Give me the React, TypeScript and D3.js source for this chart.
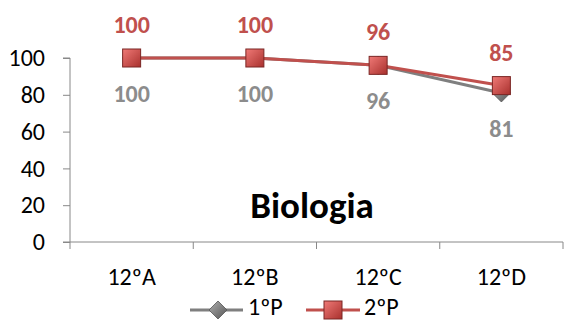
import React, { useEffect, useRef } from "react";
import * as d3 from "d3";

const categories = ["12ºA", "12ºB", "12ºC", "12ºD"];
const p1 = [100, 100, 96, 81];
const p2 = [100, 100, 96, 85];
const yTicks = [0, 20, 40, 60, 80, 100];
const title = "Biologia";

const App: React.FC = () => {
  const svgRef = useRef(null);

  useEffect(() => {
    const w = 568;
    const h = 333;
    const svg = d3.select(svgRef.current).attr("width", w).attr("height", h);
    const font = "Carlito, 'Open Sans', sans-serif";

    const x = d3.scaleBand().domain(categories).range([70, 563]);
    const y = d3.scaleLinear().domain([0, 100]).range([242, 58]);

    const defs = svg.append("defs");
    const rg = defs.append("linearGradient").attr("id", "rg").attr("x1", 0).attr("y1", 0).attr("x2", 1).attr("y2", 1);
    rg.append("stop").attr("offset", "0%").attr("stop-color", "#f07a77");
    rg.append("stop").attr("offset", "100%").attr("stop-color", "#a8302d");
    const gg = defs.append("linearGradient").attr("id", "gg").attr("x1", 0).attr("y1", 0).attr("x2", 1).attr("y2", 1);
    gg.append("stop").attr("offset", "0%").attr("stop-color", "#b0b0b0");
    gg.append("stop").attr("offset", "100%").attr("stop-color", "#555");

    // axes
    const yAxis = svg.append("g").attr("transform", "translate(70,0)")
      .call(d3.axisLeft(y).tickValues(yTicks).tickSize(7).tickPadding(18));
    yAxis.select(".domain").attr("stroke", "#888").attr("d", `M-7,${y(0)}H0V${y(100)}H-7`);
    yAxis.selectAll("line").attr("stroke", "#888");
    yAxis.selectAll("text").attr("font-size", 24).attr("font-family", font).attr("fill", "#000");

    const xAxis = svg.append("g").attr("transform", `translate(0,${y(0)})`)
      .call(d3.axisBottom(x).tickSize(0).tickPadding(26));
    xAxis.select(".domain").attr("stroke", "#888").attr("d", `M70,0H563`);
    xAxis.selectAll("text").attr("font-size", 24).attr("font-family", font).attr("fill", "#000");
    const edges = [...categories.map((c) => x(c) as number), 563];
    svg.append("g").selectAll("line").data(edges).enter().append("line")
      .attr("x1", (d) => d).attr("x2", (d) => d)
      .attr("y1", y(0)).attr("y2", y(0) + 7).attr("stroke", "#888");

    const cx = (i: number) => (x(categories[i]) as number) + x.bandwidth() / 2;
    const line = d3.line<number>().x((_, i) => cx(i)).y((d) => y(d));

    svg.append("path").attr("d", line(p1)).attr("fill", "none").attr("stroke", "#7f7f7f").attr("stroke-width", 3);
    svg.append("g").selectAll("path").data(p1).enter().append("path")
      .attr("d", (d, i) => `M${cx(i)},${y(d) - 9}L${cx(i) + 9},${y(d)}L${cx(i)},${y(d) + 9}L${cx(i) - 9},${y(d)}Z`)
      .attr("fill", "url(#gg)").attr("stroke", "#555").attr("stroke-width", 0.8);

    svg.append("path").attr("d", line(p2)).attr("fill", "none").attr("stroke", "#c0504d").attr("stroke-width", 3);
    svg.append("g").selectAll("rect").data(p2).enter().append("rect")
      .attr("x", (d, i) => cx(i) - 9).attr("y", (d) => y(d) - 9)
      .attr("width", 18).attr("height", 18)
      .attr("fill", "url(#rg)").attr("stroke", "#7a2624").attr("stroke-width", 1);

    // data labels
    svg.append("g").selectAll("text").data(p2).enter().append("text")
      .attr("x", (d, i) => cx(i)).attr("y", (d) => y(d) - 25)
      .attr("text-anchor", "middle").attr("font-size", 24).attr("font-weight", "bold")
      .attr("font-family", font).attr("fill", "#c0504d").text((d) => d);
    svg.append("g").selectAll("text").data(p1).enter().append("text")
      .attr("x", (d, i) => cx(i)).attr("y", (d) => y(d) + 44)
      .attr("text-anchor", "middle").attr("font-size", 24).attr("font-weight", "bold")
      .attr("font-family", font).attr("fill", "#8c8c8c").text((d) => d);

    svg.append("text").attr("x", 312).attr("y", 218).attr("text-anchor", "middle")
      .attr("font-size", 37).attr("font-weight", "bold").attr("font-family", font)
      .attr("fill", "#000").text(title);

    // legend
    const ly = 310;
    const leg = svg.append("g");
    leg.append("line").attr("x1", 190).attr("x2", 243).attr("y1", ly).attr("y2", ly).attr("stroke", "#7f7f7f").attr("stroke-width", 3);
    leg.append("path").attr("d", `M218,${ly - 9}L227,${ly}L218,${ly + 9}L209,${ly}Z`).attr("fill", "url(#gg)").attr("stroke", "#555").attr("stroke-width", 0.8);
    leg.append("text").attr("x", 248).attr("y", ly + 5).attr("font-size", 24).attr("font-family", font).text("1ºP");
    leg.append("line").attr("x1", 306).attr("x2", 360).attr("y1", ly).attr("y2", ly).attr("stroke", "#c0504d").attr("stroke-width", 3);
    leg.append("rect").attr("x", 324).attr("y", ly - 9).attr("width", 18).attr("height", 18).attr("fill", "url(#rg)").attr("stroke", "#7a2624");
    leg.append("text").attr("x", 364).attr("y", ly + 5).attr("font-size", 24).attr("font-family", font).text("2ºP");

    return () => {
      svg.selectAll("*").remove();
    };
  }, []);

  return <svg ref={svgRef} style={{ position: "absolute", left: 0, top: 0 }} />;
};

export default App;
